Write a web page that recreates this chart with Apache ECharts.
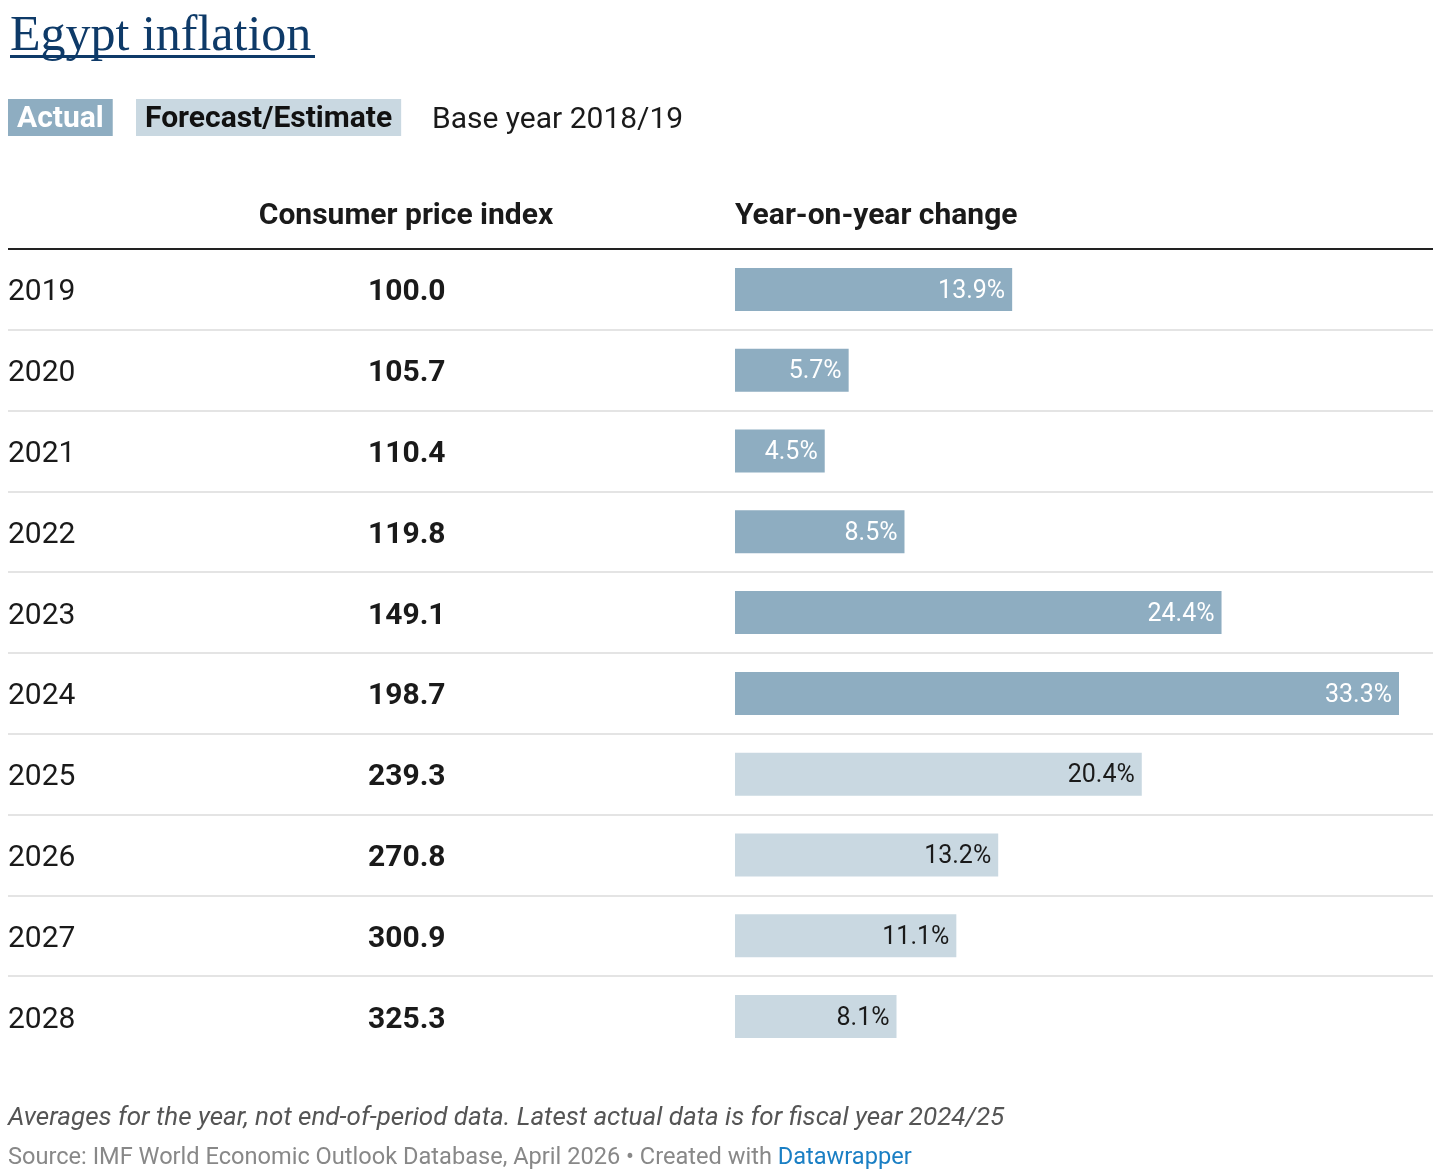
<!DOCTYPE html>
<html>
<head>
<meta charset="utf-8">
<script src="https://cdn.jsdelivr.net/npm/echarts@6/dist/echarts.min.js"></script>
<style>
  html, body { margin: 0; padding: 0; background: #fff; }
  #chart { width: 1456px; height: 1173px; }
</style>
</head>
<body>
<div id="chart"></div>
<script>
// Egypt inflation — CPI column + YoY bars, datawrapper-style table
const years = ['2019', '2020', '2021', '2022', '2023', '2024', '2025', '2026', '2027', '2028'];
const cpi = [100.0, 105.7, 110.4, 119.8, 149.1, 198.7, 239.3, 270.8, 300.9, 325.3];
const yoy = [13.9, 5.7, 4.5, 8.5, 24.4, 33.3, 20.4, 13.2, 11.1, 8.1];
const status = ['actual', 'actual', 'actual', 'actual', 'actual', 'actual', 'forecast', 'forecast', 'forecast', 'forecast'];

const FONT = 'Roboto, "Noto Sans", sans-serif';
const ACTUAL = '#8eadc1';
const FORECAST = '#c9d8e1';
const TOP = 249, ROWS_H = 808;

const chart = echarts.init(document.getElementById('chart'));

const barData = yoy.map((v, i) => ({
  value: v,
  itemStyle: { color: status[i] === 'actual' ? ACTUAL : FORECAST },
  label: { color: status[i] === 'actual' ? '#fff' : '#1a1a1a' },
}));

chart.setOption({
  animation: false,
  textStyle: { fontFamily: FONT },
  grid: [
    { left: 8, right: 23, top: TOP, height: ROWS_H },
    { left: 735, right: 57, top: TOP, height: ROWS_H },
  ],
  xAxis: [
    { gridIndex: 0, type: 'value', show: false },
    { gridIndex: 1, type: 'value', min: 0, max: 'dataMax', show: false },
  ],
  yAxis: [
    {
      gridIndex: 0, type: 'category', data: years, inverse: true,
      axisLine: { show: false }, axisTick: { show: false },
      splitLine: { show: true, showMinLine: false, showMaxLine: false, lineStyle: { color: '#e4e4e4', width: 2 } },
      axisLabel: {
        inside: true, margin: 0, padding: [7, 0, 0, 0],
        formatter: (v, i) => `{y|${v}}{v|${cpi[i].toFixed(1)}}`,
        rich: {
          y: { width: 360, fontSize: 30, color: '#1a1a1a', fontFamily: FONT },
          v: { fontSize: 30, fontWeight: 'bold', color: '#1a1a1a', fontFamily: FONT },
        },
      },
    },
    { gridIndex: 1, type: 'category', data: years, inverse: true, show: false },
  ],
  series: [{
    type: 'bar', xAxisIndex: 1, yAxisIndex: 1,
    data: barData,
    barWidth: 43,
    label: {
      show: true, position: 'insideRight', distance: 7, offset: [0, 2],
      fontSize: 25, fontFamily: FONT,
      formatter: (p) => p.value.toFixed(1) + '%',
    },
  }],
  graphic: [
    { type: 'text', left: 10, top: 12, style: { text: 'Egypt inflation', font: '50px "Liberation Serif", serif', fill: '#0e3a68' } },
    { type: 'rect', left: 10, top: 55, shape: { width: 305, height: 3 }, style: { fill: '#0e3a68' } },
    { type: 'text', left: 8, top: 99, style: { text: 'Actual', font: 'bold 30px ' + FONT, fill: '#fff', backgroundColor: ACTUAL, padding: [5, 9, 1, 9], lineHeight: 31 } },
    { type: 'text', left: 136, top: 99, style: { text: 'Forecast/Estimate', font: 'bold 30px ' + FONT, fill: '#111', backgroundColor: FORECAST, padding: [5, 9, 1, 9], lineHeight: 31 } },
    { type: 'text', x: 432, y: 120, style: { text: 'Base year 2018/19', font: '30px ' + FONT, fill: '#1a1a1a', verticalAlign: 'middle' } },
    { type: 'text', x: 406, y: 216, style: { text: 'Consumer price index', font: 'bold 30px ' + FONT, fill: '#1a1a1a', align: 'center', verticalAlign: 'middle' } },
    { type: 'text', x: 735, y: 216, style: { text: 'Year-on-year change', font: 'bold 30px ' + FONT, fill: '#1a1a1a', align: 'left', verticalAlign: 'middle' } },
    { type: 'rect', left: 8, top: 248, z: 100, shape: { width: 1425, height: 2 }, style: { fill: '#222' } },
    { type: 'text', x: 8, y: 1118, style: { text: 'Averages for the year, not end-of-period data. Latest actual data is for fiscal year 2024/25', font: 'italic 26px ' + FONT, fill: '#555', verticalAlign: 'middle' } },
    {
      type: 'text', x: 8, y: 1158,
      style: {
        verticalAlign: 'middle',
        text: '{s|Source: IMF World Economic Outlook Database, April 2026 • Created with }{d|Datawrapper}',
        rich: {
          s: { fontSize: 23.6, fontFamily: FONT, fill: '#888' },
          d: { fontSize: 23.6, fontFamily: FONT, fill: '#1a7fc4' },
        },
      },
    },
  ],
});
</script>
</body>
</html>
